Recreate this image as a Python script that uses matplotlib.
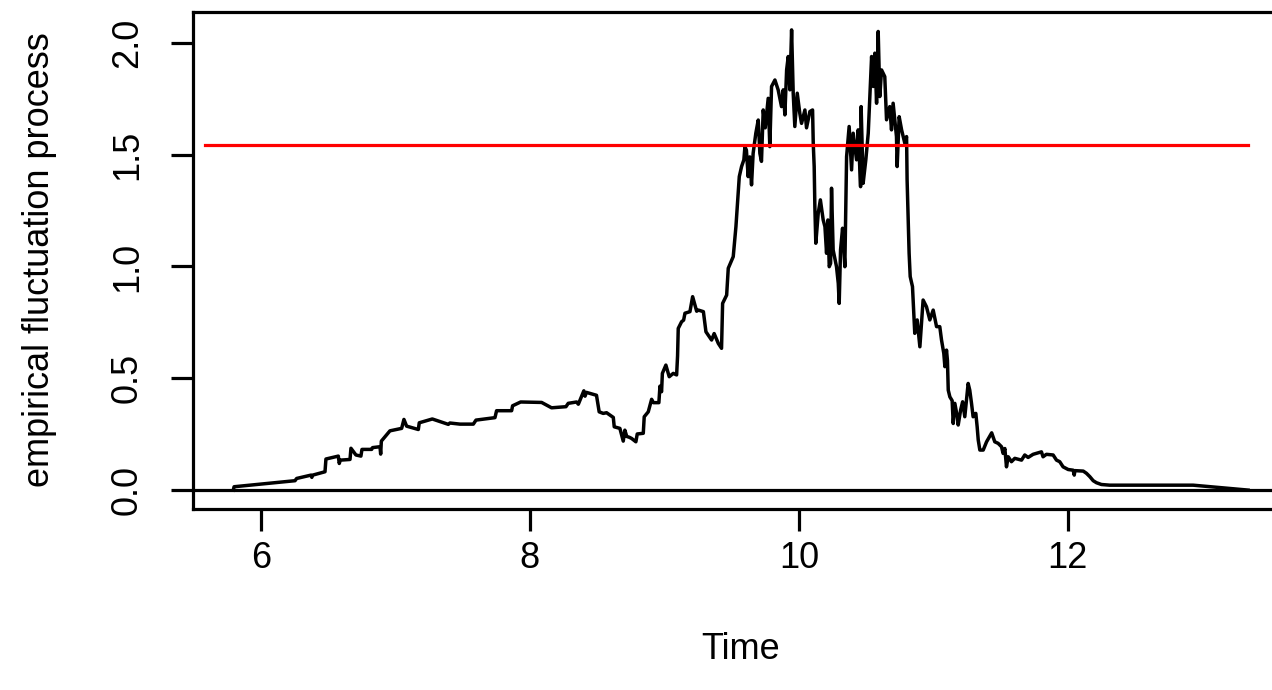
import matplotlib
matplotlib.use("Agg")
import matplotlib.pyplot as plt
import numpy as np

# empirical fluctuation process (time, value)
time = [
    5.794, 5.800, 6.253, 6.265, 6.372, 6.378, 6.385, 6.476, 6.483, 6.575,
    6.582, 6.590, 6.662, 6.669, 6.706, 6.743, 6.751, 6.823, 6.830, 6.885,
    6.890, 6.895, 6.959, 7.046, 7.063, 7.083, 7.170, 7.177, 7.274, 7.393,
    7.405, 7.480, 7.579, 7.599, 7.740, 7.752, 7.864, 7.871, 7.931, 8.087,
    8.161, 8.268, 8.285, 8.347, 8.360, 8.401, 8.410, 8.420, 8.495, 8.515,
    8.545, 8.570, 8.620, 8.627, 8.669, 8.694, 8.706, 8.720, 8.740, 8.756,
    8.788, 8.798, 8.843, 8.850, 8.880, 8.905, 8.918, 8.959, 8.967, 8.979,
    8.985, 9.011, 9.036, 9.066, 9.091, 9.098, 9.103, 9.128, 9.143, 9.153,
    9.190, 9.210, 9.227, 9.240, 9.253, 9.290, 9.309, 9.351, 9.370, 9.401,
    9.425, 9.433, 9.463, 9.475, 9.512, 9.532, 9.549, 9.557, 9.574, 9.591,
    9.599, 9.610, 9.623, 9.635, 9.648, 9.660, 9.680, 9.698, 9.710, 9.722,
    9.735, 9.750, 9.772, 9.784, 9.797, 9.822, 9.846, 9.871, 9.884, 9.896,
    9.909, 9.921, 9.933, 9.946, 9.958, 9.970, 9.988, 10.007, 10.020, 10.045,
    10.057, 10.082, 10.102, 10.107, 10.114, 10.119, 10.126, 10.144, 10.160, 10.181,
    10.194, 10.206, 10.216, 10.226, 10.236, 10.243, 10.255, 10.280, 10.293, 10.300,
    10.310, 10.325, 10.342, 10.355, 10.374, 10.392, 10.404, 10.429, 10.441, 10.459,
    10.463, 10.478, 10.498, 10.516, 10.528, 10.541, 10.553, 10.565, 10.578, 10.590,
    10.602, 10.615, 10.639, 10.652, 10.676, 10.689, 10.701, 10.726, 10.731, 10.746,
    10.764, 10.788, 10.801, 10.805, 10.813, 10.820, 10.828, 10.845, 10.862, 10.880,
    10.900, 10.924, 10.949, 10.974, 10.999, 11.024, 11.048, 11.061, 11.078, 11.086,
    11.098, 11.105, 11.111, 11.123, 11.140, 11.148, 11.160, 11.178, 11.185, 11.203,
    11.218, 11.234, 11.247, 11.259, 11.271, 11.284, 11.296, 11.316, 11.326, 11.334,
    11.346, 11.371, 11.396, 11.434, 11.457, 11.482, 11.507, 11.519, 11.532, 11.544,
    11.557, 11.581, 11.606, 11.656, 11.680, 11.705, 11.742, 11.804, 11.816, 11.841,
    11.891, 11.916, 11.940, 11.965, 12.003, 12.040, 12.048, 12.053, 12.115, 12.139,
    12.164, 12.189, 12.213, 12.250, 12.312, 12.932, 13.341,
]
process = [
    0.000, 0.015, 0.042, 0.052, 0.067, 0.057, 0.067, 0.082, 0.139, 0.152,
    0.119, 0.134, 0.137, 0.187, 0.157, 0.152, 0.182, 0.182, 0.190, 0.194,
    0.161, 0.219, 0.265, 0.276, 0.316, 0.286, 0.271, 0.301, 0.318, 0.294,
    0.300, 0.295, 0.295, 0.313, 0.324, 0.355, 0.355, 0.377, 0.394, 0.392,
    0.368, 0.373, 0.388, 0.394, 0.384, 0.444, 0.420, 0.437, 0.424, 0.350,
    0.343, 0.346, 0.325, 0.283, 0.276, 0.219, 0.268, 0.240, 0.236, 0.231,
    0.216, 0.251, 0.254, 0.328, 0.350, 0.406, 0.391, 0.391, 0.465, 0.440,
    0.522, 0.559, 0.507, 0.522, 0.515, 0.600, 0.723, 0.753, 0.760, 0.791,
    0.798, 0.865, 0.828, 0.800, 0.805, 0.798, 0.708, 0.671, 0.700, 0.656,
    0.634, 0.835, 0.872, 0.992, 1.044, 1.178, 1.327, 1.402, 1.447, 1.477,
    1.536, 1.520, 1.402, 1.490, 1.365, 1.506, 1.596, 1.655, 1.506, 1.470,
    1.700, 1.620, 1.752, 1.536, 1.805, 1.834, 1.790, 1.715, 1.790, 1.678,
    1.879, 1.939, 1.790, 2.058, 1.775, 1.626, 1.775, 1.685, 1.640, 1.700,
    1.620, 1.693, 1.700, 1.551, 1.447, 1.268, 1.104, 1.238, 1.298, 1.208,
    1.178, 1.059, 1.208, 0.999, 1.014, 1.350, 1.074, 0.999, 0.925, 0.835,
    1.074, 1.171, 0.999, 1.491, 1.626, 1.432, 1.596, 1.477, 1.611, 1.357,
    1.715, 1.372, 1.477, 1.596, 1.760, 1.939, 1.805, 1.954, 1.730, 2.051,
    1.760, 1.879, 1.849, 1.656, 1.715, 1.611, 1.730, 1.581, 1.447, 1.670,
    1.611, 1.551, 1.581, 1.387, 1.208, 1.059, 0.955, 0.910, 0.701, 0.761,
    0.641, 0.850, 0.820, 0.761, 0.805, 0.731, 0.731, 0.671, 0.611, 0.552,
    0.626, 0.580, 0.447, 0.417, 0.400, 0.298, 0.388, 0.328, 0.291, 0.358,
    0.395, 0.328, 0.403, 0.477, 0.447, 0.388, 0.328, 0.343, 0.283, 0.224,
    0.179, 0.179, 0.216, 0.256, 0.216, 0.209, 0.194, 0.164, 0.186, 0.104,
    0.149, 0.127, 0.142, 0.134, 0.157, 0.146, 0.160, 0.171, 0.149, 0.160,
    0.157, 0.134, 0.127, 0.104, 0.092, 0.089, 0.067, 0.087, 0.085, 0.075,
    0.060, 0.042, 0.033, 0.025, 0.022, 0.022, 0.000,
]

# critical boundary
boundary_level = 1.544
boundary_time = [5.584, 13.341]

x_ticks = [6, 8, 10, 12]
y_ticks = [0.0, 0.5, 1.0, 1.5, 2.0]

plt.rcParams['font.family'] = ['Liberation Sans', 'DejaVu Sans']

fig = plt.figure(figsize=(12.72, 6.90), dpi=100)
# box runs past the right edge of the canvas
ax = fig.add_axes([192.7 / 1272, (690 - 508.5) / 690, 1096 / 1272, 497 / 690])

lw = 2.3
ax.axhline(0, color='black', lw=lw)
ax.plot(time, process, color='black', lw=lw + 0.2, solid_joinstyle='round')
ax.plot(boundary_time, [boundary_level] * 2, color='red', lw=lw)

# R-style limits: data range padded by 4%
t0, t1 = min(time), max(time)
ax.set_xlim(t0 - 0.04 * (t1 - t0), t1 + 0.04 * (t1 - t0))
ymax = max(max(process), boundary_level)
ax.set_ylim(-0.04 * ymax, ymax + 0.04 * ymax)

for s in ax.spines.values():
    s.set_linewidth(lw)

ax.set_xticks(x_ticks)
ax.set_xticklabels([str(t) for t in x_ticks])
ax.set_yticks(y_ticks)
ax.set_yticklabels([f"{v:.1f}" for v in y_ticks], rotation=90, va='center')
ax.tick_params(axis='both', direction='out', length=15.5, width=lw,
               labelsize=26, top=False, right=False)
ax.tick_params(axis='x', pad=8)
ax.tick_params(axis='y', pad=19)

ax.set_xlabel("Time", fontsize=26, labelpad=40)
ax.set_ylabel("empirical fluctuation process", fontsize=26, labelpad=38)

fig.savefig("out.png", dpi=100)
